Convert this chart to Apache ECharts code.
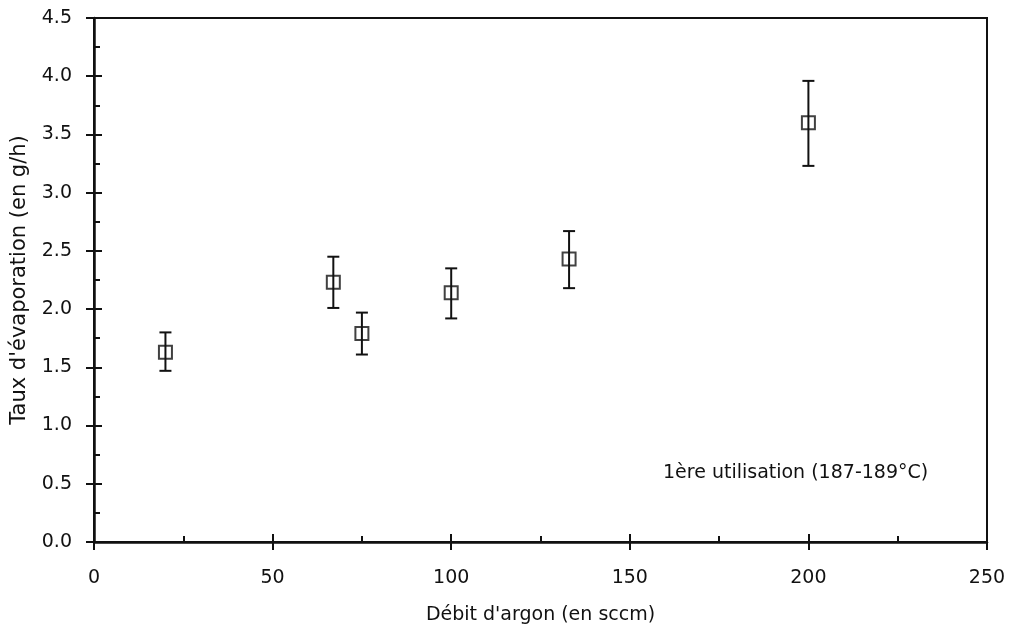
<!DOCTYPE html>
<html>
<head>
<meta charset="utf-8">
<script src="https://cdn.jsdelivr.net/npm/echarts@6/dist/echarts.min.js"></script>
<style>
  html, body { margin: 0; padding: 0; background: #fff; }
  #chart { width: 1012px; height: 628px; }
</style>
</head>
<body>
<div id="chart"></div>
<script>
// argon flow (sccm) vs evaporation rate (g/h), with error bar limits
const flow = [20, 67, 75, 100, 133, 200];
const rate = [1.63, 2.23, 1.79, 2.14, 2.43, 3.60];
const rateLow = [1.47, 2.01, 1.61, 1.92, 2.18, 3.23];
const rateHigh = [1.80, 2.45, 1.97, 2.35, 2.67, 3.96];

const FONT = '"DejaVu Sans", sans-serif';
const INK = '#111';

const points = flow.map((x, i) => [x, rate[i]]);
const bars = flow.map((x, i) => [x, rateLow[i], rateHigh[i]]);

const chart = echarts.init(document.getElementById('chart'));

const baseX = {
  type: 'value',
  min: 0,
  max: 250,
  interval: 50,
  splitLine: { show: false }
};
const baseY = {
  type: 'value',
  min: 0,
  max: 4.5,
  interval: 0.5,
  splitLine: { show: false }
};

chart.setOption({
  animation: false,
  grid: {
    left: 94, right: 25, top: 18, bottom: 86,
    outerBoundsMode: 'none',
    containLabel: false,
    show: true,
    borderColor: INK,
    borderWidth: 2
  },
  xAxis: [
    Object.assign({}, baseX, {
      name: "Débit d'argon (en sccm)",
      nameLocation: 'middle',
      nameGap: 64,
      nameTextStyle: { fontFamily: FONT, fontSize: 19, color: INK },
      axisLine: { lineStyle: { color: INK, width: 2.5 } },
      axisTick: { inside: true, length: 8, lineStyle: { color: INK, width: 2 } },
      minorTick: { show: true, splitNumber: 2, length: 6, lineStyle: { color: INK, width: 2 } },
      axisLabel: { margin: 27, fontFamily: FONT, fontSize: 19, color: INK }
    }),
    Object.assign({}, baseX, {
      position: 'bottom',
      axisLine: { show: false },
      axisTick: { inside: false, length: 8, lineStyle: { color: INK, width: 2 } },
      axisLabel: { show: false }
    })
  ],
  yAxis: [
    Object.assign({}, baseY, {
      name: "Taux d'évaporation (en g/h)",
      nameLocation: 'middle',
      nameGap: 64,
      nameTextStyle: { fontFamily: FONT, fontSize: 21, color: INK },
      axisLine: { lineStyle: { color: INK, width: 2.5 } },
      axisTick: { inside: true, length: 8, lineStyle: { color: INK, width: 2 } },
      minorTick: { show: true, splitNumber: 2, length: 6, lineStyle: { color: INK, width: 2 } },
      axisLabel: {
        margin: 22, fontFamily: FONT, fontSize: 19, color: INK,
        formatter: (v) => v.toFixed(1)
      }
    }),
    Object.assign({}, baseY, {
      position: 'left',
      axisLine: { show: false },
      axisTick: { inside: false, length: 8, lineStyle: { color: INK, width: 2 } },
      axisLabel: { show: false }
    })
  ],
  graphic: [{
    type: 'text',
    left: 663,
    top: 464,
    style: {
      text: '1ère utilisation (187-189°C)',
      font: '19px ' + FONT,
      fill: INK
    }
  }],
  series: [
    {
      type: 'custom',
      xAxisIndex: 0,
      yAxisIndex: 0,
      data: bars,
      z: 2,
      renderItem: function (params, api) {
        const lo = api.coord([api.value(0), api.value(1)]);
        const hi = api.coord([api.value(0), api.value(2)]);
        const cap = 6;
        const style = { stroke: INK, lineWidth: 2 };
        return {
          type: 'group',
          children: [
            { type: 'line', shape: { x1: lo[0], y1: lo[1], x2: hi[0], y2: hi[1] }, style },
            { type: 'line', shape: { x1: lo[0] - cap, y1: lo[1], x2: lo[0] + cap, y2: lo[1] }, style },
            { type: 'line', shape: { x1: hi[0] - cap, y1: hi[1], x2: hi[0] + cap, y2: hi[1] }, style }
          ]
        };
      }
    },
    {
      type: 'scatter',
      xAxisIndex: 0,
      yAxisIndex: 0,
      data: points,
      symbol: 'rect',
      symbolSize: [13, 13],
      z: 3,
      itemStyle: { color: 'rgba(255,255,255,0)', borderColor: INK, borderWidth: 2 }
    }
  ]
});
</script>
</body>
</html>
